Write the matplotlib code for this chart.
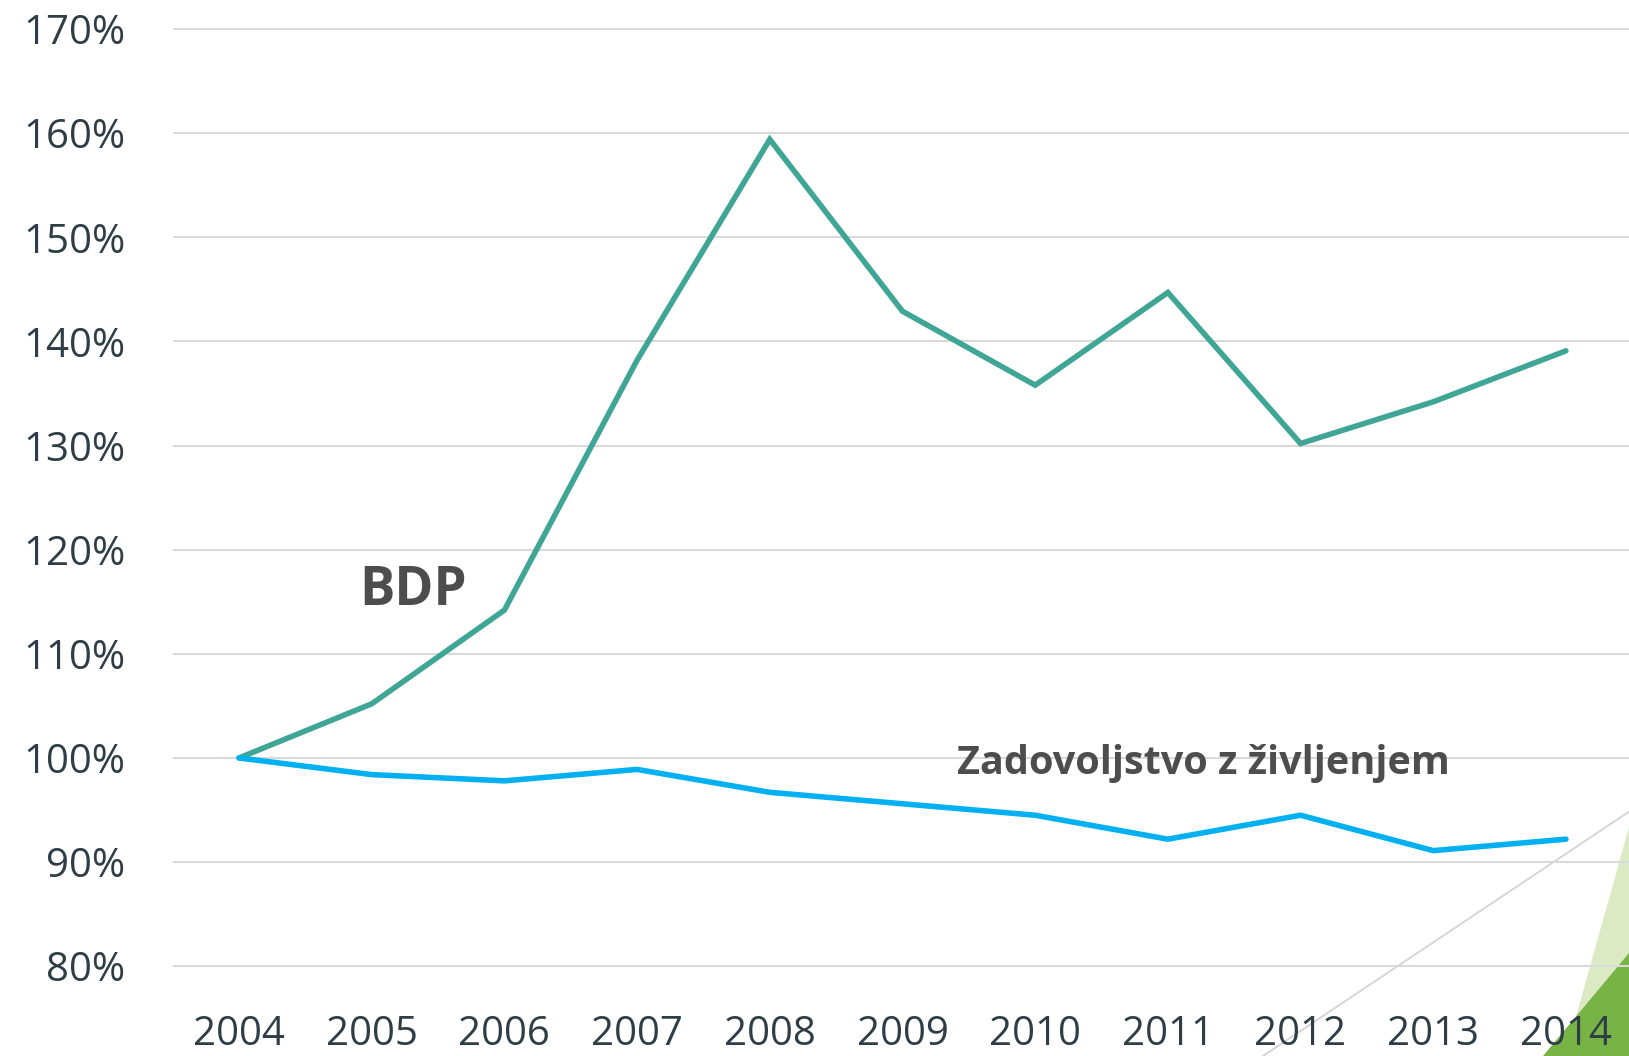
import matplotlib.pyplot as plt
from matplotlib.patches import Polygon
from matplotlib.lines import Line2D
from matplotlib.ticker import PercentFormatter

# data (index, 2004 = 100 %)
years = ["2004", "2005", "2006", "2007", "2008", "2009", "2010", "2011", "2012", "2013", "2014"]
bdp = [1.00, 1.052, 1.142, 1.382, 1.594, 1.429, 1.358, 1.447, 1.302, 1.342, 1.391]
zadovoljstvo = [1.00, 0.984, 0.978, 0.989, 0.967, 0.956, 0.945, 0.922, 0.945, 0.911, 0.922]
y_ticks = [0.8, 0.9, 1.0, 1.1, 1.2, 1.3, 1.4, 1.5, 1.6, 1.7]

W, H = 1629, 1056
fig = plt.figure(figsize=(W / 100, H / 100), dpi=100)


# decoration in the bottom right corner (behind the chart)
def px(xp, yp):
    return (xp / W, 1 - yp / H)


fig.add_artist(Line2D([1263 / W, 1.0], [1 - 1056 / H, 1 - 811.7 / H], color="#D0D0D0", lw=1.2,
                      transform=fig.transFigure, zorder=-3))
fig.add_artist(Polygon([px(1629, 827), px(1565, 1056), px(1629, 1056)], closed=True,
                       facecolor="#DCEAC4", edgecolor="none", transform=fig.transFigure, zorder=-2))
fig.add_artist(Polygon([px(1629, 953), px(1543, 1056), px(1629, 1056)], closed=True,
                       facecolor="#78B345", edgecolor="none", transform=fig.transFigure, zorder=-1))

ax = fig.add_axes([172.7 / W, 0.0801, 1 - 172.7 / W + 0.002, 0.9774 - 0.0801])
ax.patch.set_visible(False)

x = list(range(len(years)))
ax.plot(x, bdp, color="#3FA595", lw=4.0, solid_capstyle="round", solid_joinstyle="miter", zorder=3)
ax.plot(x, zadovoljstvo, color="#00B0F0", lw=4.0, solid_capstyle="round", solid_joinstyle="miter", zorder=3)

ax.set_xlim(-0.5, len(years) - 0.5)
ax.set_ylim(0.795, 1.705)
ax.set_xticks(x)
ax.set_xticklabels(years)
ax.set_yticks(y_ticks)
ax.yaxis.set_major_formatter(PercentFormatter(1.0, decimals=0))
ax.grid(axis="y", color="#D9D9D9", lw=1.5)
ax.set_axisbelow(True)
for s in ax.spines.values():
    s.set_visible(False)
ax.tick_params(length=0, labelsize=29, labelcolor="#2E3D46")
ax.tick_params(axis="y", pad=34)
ax.tick_params(axis="x", pad=31)
for lbl in ax.get_xticklabels() + ax.get_yticklabels():
    lbl.set_fontfamily("Open Sans")

ax.text(1.315, 1.160, "BDP", ha="center", va="center", fontsize=38,
        fontweight="bold", color="#4D4D4D", family="Open Sans")
ax.text(7.27, 0.995, "Zadovoljstvo z življenjem", ha="center", va="center", fontsize=28.5,
        fontweight="bold", color="#4D4D4D", family="Open Sans")

fig.savefig("out.png", dpi=100)
